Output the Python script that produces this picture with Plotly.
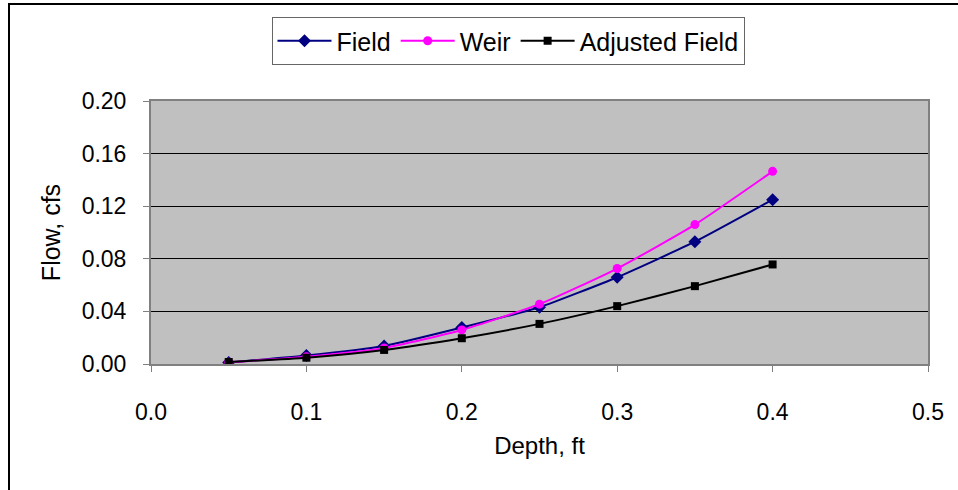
import plotly.graph_objects as go

depth = [0.05, 0.10, 0.15, 0.20, 0.25, 0.30, 0.35, 0.40]
field = [0.0012, 0.0065, 0.0137, 0.0277, 0.0432, 0.0660, 0.0930, 0.1250]
weir = [0.0013, 0.0055, 0.0122, 0.0259, 0.0455, 0.0726, 0.1060, 0.1465]
adjusted = [0.0015, 0.0048, 0.0107, 0.0196, 0.0305, 0.0440, 0.0592, 0.0757]

x_ticks = [0.0, 0.1, 0.2, 0.3, 0.4, 0.5]
y_ticks = [0.00, 0.04, 0.08, 0.12, 0.16, 0.20]

W, H = 958, 490
L, R, T, B = 151, 928, 101, 364

def px(xp):
    return (xp - L) / (R - L)

def py(yp):
    return (B - yp) / (B - T)

FONT = "Liberation Sans, Arial, sans-serif"
fig = go.Figure()
fig.add_trace(go.Scatter(x=depth, y=field, name="Field", mode="lines+markers",
                         line=dict(color="#000080", width=2, shape="spline", smoothing=0.5),
                         marker=dict(symbol="diamond", size=10, color="#000080")))
fig.add_trace(go.Scatter(x=depth, y=weir, name="Weir", mode="lines+markers",
                         line=dict(color="#FF00FF", width=2, shape="spline", smoothing=0.5),
                         marker=dict(symbol="circle", size=9, color="#FF00FF")))
fig.add_trace(go.Scatter(x=depth, y=adjusted, name="Adjusted Field", mode="lines+markers",
                         line=dict(color="#000000", width=2, shape="spline", smoothing=0.5),
                         marker=dict(symbol="square", size=8, color="#000000")))

fig.update_layout(
    width=W, height=H,
    margin=dict(l=L, r=W - R, t=T, b=H - B),
    paper_bgcolor="white", plot_bgcolor="#C0C0C0",
    font=dict(family=FONT, size=22, color="black"),
    showlegend=True,
    legend=dict(orientation="h", x=px(508), xanchor="center", y=py(17), yanchor="top",
                bordercolor="#666666", borderwidth=1, bgcolor="white",
                font=dict(size=25), itemwidth=54, tracegroupgap=0),
    xaxis=dict(range=[0, 0.5], tickvals=x_ticks, ticktext=[f"{v:.1f}" for v in x_ticks],
               showgrid=False, zeroline=False, showline=True, linecolor="#808080", linewidth=2,
               mirror=True, ticks="outside", ticklen=6, tickcolor="#808080", tickwidth=1,
               ticklabelstandoff=20, tickfont=dict(size=23),
               title=dict(text="Depth, ft", standoff=14, font=dict(size=24))),
    yaxis=dict(range=[0, 0.20], tickvals=y_ticks, ticktext=[f"{v:.2f}" for v in y_ticks],
               showgrid=True, gridcolor="#000000", gridwidth=1, zeroline=False,
               showline=True, linecolor="#808080", linewidth=2, mirror=True,
               ticks="outside", ticklen=6, tickcolor="#808080", tickwidth=1,
               ticklabelstandoff=12, tickfont=dict(size=23),
               title=dict(text="Flow, cfs", standoff=14, font=dict(size=25))),
    shapes=[
        dict(type="line", xref="paper", yref="paper", x0=px(9), x1=px(9), y0=py(4), y1=py(495),
             line=dict(color="black", width=2)),
        dict(type="line", xref="paper", yref="paper", x0=px(8), x1=px(965), y0=py(4), y1=py(4),
             line=dict(color="black", width=2)),
    ],
)

fig.write_html("out.html")
